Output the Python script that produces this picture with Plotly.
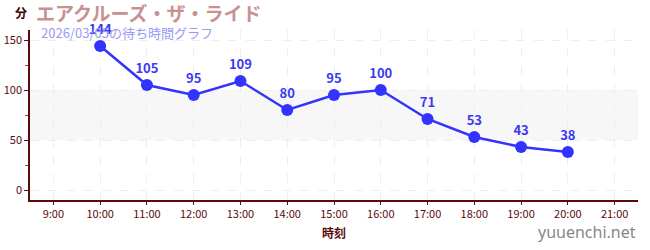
import plotly.graph_objects as go

hours = [10, 11, 12, 13, 14, 15, 16, 17, 18, 19, 20]
waits = [144, 105, 95, 109, 80, 95, 100, 71, 53, 43, 38]
tick_hours = [9, 10, 11, 12, 13, 14, 15, 16, 17, 18, 19, 20, 21]
tick_labels = [f"{h}:00" for h in tick_hours]
y_ticks = [0, 50, 100, 150]

title_text = "エアクルーズ・ザ・ライド"
subtitle_text = "2026/03/05の待ち時間グラフ"

FONT = "Noto Sans CJK JP"
AXIS = "#5a0a0a"

fig = go.Figure()
fig.add_trace(go.Scatter(
    x=hours, y=waits, mode="lines+markers+text",
    line=dict(color="#3333ff", width=2.5),
    marker=dict(color="#3333ff", size=12),
    text=[str(v) for v in waits], textposition="top center",
    textfont=dict(family=FONT, size=13, color="#3a3af0", weight="bold"),
    cliponaxis=False, hoverinfo="skip",
))

fig.add_shape(type="rect", xref="paper", yref="y", x0=0, x1=1, y0=50, y1=100,
              fillcolor="#f7f7f7", line=dict(width=0), layer="below")

fig.update_layout(
    width=650, height=250,
    margin=dict(l=30, r=12, t=30, b=50),
    paper_bgcolor="white", plot_bgcolor="white",
    showlegend=False,
    font=dict(family=FONT, color=AXIS),
    xaxis=dict(range=[8.5, 21.5], tickvals=tick_hours, ticktext=tick_labels,
               showgrid=True, gridcolor="#eeeeee", griddash="dash", gridwidth=1,
               showline=True, linecolor=AXIS, linewidth=1.5,
               ticks="outside", ticklen=3, tickcolor=AXIS, automargin=False,
               tickfont=dict(size=11, color=AXIS), zeroline=False,
               title=dict(text="<b>時刻</b>", font=dict(size=12, color=AXIS), standoff=10)),
    yaxis=dict(range=[-10, 160], tickvals=y_ticks, automargin=False,
               showgrid=True, gridcolor="#eeeeee", griddash="dash", gridwidth=1,
               showline=True, linecolor=AXIS, linewidth=1.5,
               ticks="outside", ticklen=4, tickcolor=AXIS,
               minor=dict(tickvals=[25, 75, 125], ticks="outside", ticklen=3, tickcolor="#dd2222", showgrid=False),
               tickfont=dict(size=11, color=AXIS), zeroline=False),
    annotations=[
        dict(text="<b>分</b>", x=-0.015, y=1.1, xref="paper", yref="paper", xanchor="center", yanchor="middle",
             showarrow=False, font=dict(size=12, color="#400000")),
        dict(text="<b>" + title_text + "</b>", x=0.006, y=1.1, xref="paper", yref="paper", xanchor="left", yanchor="middle",
             showarrow=False, font=dict(size=19, color="#c89090")),
        dict(text=subtitle_text, x=0.015, y=0.985, xref="paper", yref="paper", xanchor="left", yanchor="middle",
             showarrow=False, font=dict(size=13, color="#9a9af5")),
        dict(text="yuuenchi.net", x=1.0, y=-0.19, xref="paper", yref="paper", xanchor="right", yanchor="middle",
             showarrow=False, font=dict(size=16, color="#888888", family="Noto Sans")),
    ],
)

fig.write_html("out.html")
